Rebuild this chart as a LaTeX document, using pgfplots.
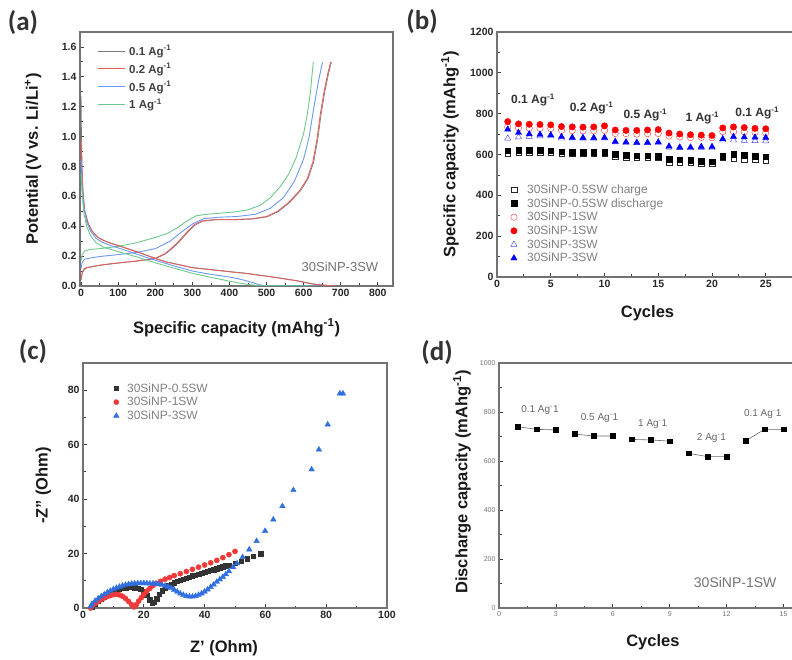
\documentclass[border=0pt]{standalone}
\usepackage{fontspec}
\setmainfont{Liberation Sans}
\newfontfamily\panelfont{Carlito}
\usepackage{pgfplots}
\usepackage{pgfplotstable}
\pgfplotsset{compat=1.18}

\definecolor{c01}{HTML}{5A5A5A}
\definecolor{c02}{HTML}{E06060}
\definecolor{c05}{HTML}{6A98F2}
\definecolor{c1}{HTML}{6CC98A}
\definecolor{eisk}{HTML}{333333}
\definecolor{eisr}{HTML}{F03A3A}
\definecolor{eisb}{HTML}{2F6FE0}

% rate capability, panel (b)
\pgfplotstableread{
cyc c05c c05d c1c c1d c3c c3d
1 603 619 735 761 679 723
2 610 620 730 750 685 707
3 612 620 728 748 688 700
4 612 620 728 747 690 698
5 612 619 727 745 690 695
6 605 614 718 737 680 687
7 604 612 717 735 680 683
8 603 610 716 734 679 682
9 603 610 716 735 679 682
10 603 610 718 740 680 683
11 590 600 703 720 660 663
12 588 597 702 718 658 660
13 587 595 700 718 657 658
14 587 595 702 720 657 658
15 586 593 703 722 658 660
16 563 578 690 705 635 640
17 560 575 686 700 633 635
18 560 573 683 697 632 635
19 557 568 684 695 634 638
20 555 565 682 693 632 638
21 588 592 712 730 670 676
22 582 600 712 735 670 687
23 578 596 710 732 668 685
24 575 593 708 728 667 684
25 572 590 706 726 666 683
}\ratetable

\pgfplotsset{
  panel/.style={
    scale only axis,
    axis line style={black!55, line width=1.1pt},
    tick align=inside,
    xtick pos=bottom, ytick pos=left,
    major tick length=4pt, minor tick length=2.5pt,
    tick style={black!75, line width=0.8pt},
    minor tick num=1,
    /pgf/number format/assume math mode=true,
    /pgf/number format/1000 sep={},
    tick label style={font=\bfseries\fontsize{10.5}{12}\selectfont, text=black!85},
    label style={font=\bfseries\fontsize{16.5}{19}\selectfont, text=black!90},
    legend cell align=left,
  },
  gap/.style={/tikz/every odd column/.append style={column sep=#1}},
}

\begin{document}
\begin{tikzpicture}
\path[use as bounding box] (0,0) rectangle (792pt,659pt);

\node[font=\panelfont\bfseries\fontsize{27}{30}\selectfont, text=black!80] at (23pt,636pt) {(a)};
\node[font=\panelfont\bfseries\fontsize{27}{30}\selectfont, text=black!80] at (422pt,637pt) {(b)};
\node[font=\panelfont\bfseries\fontsize{27}{30}\selectfont, text=black!80] at (33pt,307pt) {(c)};
\node[font=\panelfont\bfseries\fontsize{27}{30}\selectfont, text=black!80] at (437pt,306pt) {(d)};

% (a) charge / discharge profiles
\begin{axis}[panel,
  at={(80pt,373pt)}, anchor=south west,
  width=313pt, height=254pt,
  xmin=-3, xmax=841, ymin=0, ymax=1.7,
  xtick={0,100,...,800}, ytick={0,0.2,...,1.6},
  yticklabel style={/pgf/number format/.cd, fixed, fixed zerofill, precision=1},
  xlabel={Specific capacity (mAhg\textsuperscript{-1})},
  ylabel={Potential (V vs. Li/Li\textsuperscript{+})},
  xlabel style={at={(axis description cs:0.5,-0.165)}, anchor=center},
  ylabel style={at={(axis description cs:-0.15,0.5)}, anchor=center},
  legend style={at={(axis description cs:0.045,0.96)}, anchor=north west,
    draw=none, fill=none, font=\bfseries\fontsize{11.5}{13}\selectfont, text=black!75,
    nodes={inner sep=1pt}, row sep=4.5pt, gap=3pt},
  legend image code/.code={\draw[#1] (0pt,0pt) -- (27pt,0pt);},
]
\addplot[c01, line width=0.7pt, opacity=0.8] coordinates {
(0,0.04) (3,0.085) (8,0.11) (15,0.12) (30,0.128) (50,0.138) (100,0.153) (150,0.166)
(200,0.183) (227,0.213) (242,0.243) (262,0.288) (287,0.358) (307,0.408) (327,0.433)
(362,0.443) (413,0.443) (462,0.448) (502,0.463) (532,0.498) (562,0.558) (592,0.638)
(612,0.718) (627,0.828) (638,0.978) (647,1.148) (657,1.298) (667,1.418) (675,1.5)};
\addlegendentry{0.1 Ag\textsuperscript{-1}}
\addplot[c02, line width=0.9pt] coordinates {
(0,0.05) (3,0.09) (8,0.115) (15,0.125) (30,0.13) (50,0.14) (100,0.155) (150,0.168)
(200,0.185) (225,0.215) (240,0.245) (260,0.29) (285,0.36) (305,0.41) (325,0.435)
(360,0.445) (411,0.445) (460,0.45) (500,0.465) (530,0.5) (560,0.56) (590,0.64)
(610,0.72) (625,0.83) (636,0.98) (645,1.15) (655,1.3) (665,1.42) (673,1.5)};
\addlegendentry{0.2 Ag\textsuperscript{-1}}
\addplot[c05, line width=0.9pt] coordinates {
(0,0.12) (3,0.16) (10,0.18) (30,0.19) (60,0.2) (100,0.21) (150,0.225) (200,0.25)
(240,0.3) (270,0.36) (300,0.415) (330,0.45) (370,0.46) (420,0.465) (470,0.48)
(510,0.52) (545,0.59) (575,0.7) (600,0.85) (615,1.0) (628,1.2) (640,1.37) (651,1.5)};
\addlegendentry{0.5 Ag\textsuperscript{-1}}
\addplot[c1, line width=0.9pt] coordinates {
(0,0.17) (3,0.21) (10,0.235) (25,0.245) (50,0.25) (100,0.265) (150,0.29) (200,0.325)
(231,0.35) (260,0.39) (285,0.435) (310,0.47) (340,0.48) (411,0.495) (450,0.51)
(483,0.54) (510,0.59) (537,0.665) (560,0.75) (580,0.86) (600,1.02) (610,1.15)
(618,1.29) (626,1.5)};
\addlegendentry{1 Ag\textsuperscript{-1}}
% discharge branches
\addplot[c01, line width=0.7pt, opacity=0.8, forget plot] coordinates {
(0,1.27) (1,1.0) (3,0.76) (6,0.6) (10,0.50) (20,0.412) (30,0.367) (45,0.327)
(60,0.307) (80,0.287) (100,0.272) (130,0.247) (160,0.222) (195,0.19) (230,0.162)
(267,0.142) (300,0.124) (356,0.109) (400,0.097) (447,0.085) (500,0.067) (536,0.054)
(580,0.037) (626,0.014) (660,0.005) (692,0.0)};
\addplot[c02, line width=0.9pt, forget plot] coordinates {
(0,0.98) (2,0.80) (5,0.62) (10,0.50) (20,0.41) (30,0.365) (45,0.325) (60,0.305)
(80,0.285) (100,0.27) (130,0.245) (160,0.22) (195,0.188) (230,0.16) (267,0.14)
(300,0.122) (356,0.107) (400,0.095) (447,0.083) (500,0.065) (536,0.052) (580,0.035)
(626,0.012) (660,0.004) (690,0.0)};
\addplot[c05, line width=0.9pt, forget plot] coordinates {
(0,0.84) (3,0.65) (8,0.52) (15,0.43) (25,0.37) (40,0.32) (55,0.295) (80,0.27)
(100,0.255) (130,0.23) (150,0.213) (200,0.172) (250,0.135) (300,0.1) (350,0.078)
(400,0.06) (430,0.045) (460,0.025) (480,0.008) (500,0.002) (560,0.001) (655,0.0)};
\addplot[c1, line width=0.9pt, forget plot] coordinates {
(0,0.75) (3,0.6) (8,0.48) (15,0.40) (25,0.34) (40,0.29) (60,0.26) (100,0.23)
(150,0.195) (200,0.155) (250,0.12) (300,0.085) (350,0.058) (400,0.032) (450,0.01)
(480,0.002) (560,0.001) (640,0.0)};
\node[text=black!55, font=\fontsize{13}{15}\selectfont] at (axis cs:698,0.13) {30SiNP-3SW};
\end{axis}

% (b) rate performance
\begin{axis}[panel,
  at={(497pt,382pt)}, anchor=south west,
  width=301pt, height=245pt,
  xmin=0, xmax=28, ymin=0, ymax=1200,
  xtick={0,5,...,25}, ytick={0,200,...,1200},
  xlabel={Cycles},
  ylabel={Specific capacity (mAhg\textsuperscript{-1})},
  xlabel style={at={(axis description cs:0.5,-0.147)}, anchor=center},
  ylabel style={at={(axis description cs:-0.156,0.5)}, anchor=center},
  legend style={at={(axis description cs:0.035,0.39)}, anchor=north west,
    draw=none, fill=none, font=\fontsize{12}{13}\selectfont, text=black!50,
    nodes={inner sep=1pt}, row sep=1.5pt, gap=9pt},
]
\addplot[only marks, mark=square, mark size=2.8pt, black!85] table[x=cyc, y=c05c] {\ratetable};
\addlegendentry{30SiNP-0.5SW charge}
\addplot[only marks, mark=square*, mark size=2.8pt, black] table[x=cyc, y=c05d] {\ratetable};
\addlegendentry{30SiNP-0.5SW discharge}
\addplot[only marks, mark=o, mark size=3.2pt, red!80] table[x=cyc, y=c1c] {\ratetable};
\addlegendentry{30SiNP-1SW}
\addplot[only marks, mark=*, mark size=3.2pt, red] table[x=cyc, y=c1d] {\ratetable};
\addlegendentry{30SiNP-1SW}
\addplot[only marks, mark=triangle, mark size=3.6pt, blue!75] table[x=cyc, y=c3c] {\ratetable};
\addlegendentry{30SiNP-3SW}
\addplot[only marks, mark=triangle*, mark size=3.6pt, blue] table[x=cyc, y=c3d] {\ratetable};
\addlegendentry{30SiNP-3SW}
\begin{scope}[font=\bfseries\fontsize{12}{13}\selectfont, text=black!80]
\node at (axis cs:3.35,867) {0.1 Ag\textsuperscript{-1}};
\node at (axis cs:8.8,828) {0.2 Ag\textsuperscript{-1}};
\node at (axis cs:13.8,793) {0.5 Ag\textsuperscript{-1}};
\node at (axis cs:19.1,778) {1 Ag\textsuperscript{-1}};
\node at (axis cs:24.2,803) {0.1 Ag\textsuperscript{-1}};
\end{scope}
\end{axis}

% (c) Nyquist plots
\begin{axis}[panel,
  at={(83pt,51pt)}, anchor=south west,
  width=304pt, height=245pt,
  xmin=0, xmax=100, ymin=0, ymax=90,
  clip=false,
  xtick={0,20,...,100}, ytick={0,20,...,80},
  xlabel={Z' (Ohm)},
  ylabel={-Z'' (Ohm)},
  xlabel style={at={(axis description cs:0.464,-0.163)}, anchor=center},
  ylabel style={at={(axis description cs:-0.13,0.5)}, anchor=center},
  legend style={at={(axis description cs:0.09,0.93)}, anchor=north west,
    draw=none, fill=none, font=\fontsize{12}{13}\selectfont, text=black!50,
    nodes={inner sep=1pt}, row sep=1.5pt, gap=7pt},
]
\addplot[only marks, mark=square*, mark size=2.2pt, eisk] coordinates {
(3,0.5) (4,1.5) (5,2.5) (6,3.4) (7,4.2) (8,5.0) (9,5.6) (10,6.1) (11,6.6) (12,7.0)
(13,7.3) (14,7.5) (15,7.6) (16,7.6) (17,7.5) (18,7.3) (19,6.8) (20,6.0) (21,4.6)
(22,3.0) (22.8,1.8) (23.5,2.2) (24.2,3.4) (25,5.0) (26,6.4) (27,7.4) (28,8.2) (29,8.8)
(30,9.3) (31,9.8) (32,10.2) (33,10.6) (34,11.0) (35,11.4) (36,11.8) (37,12.1) (38,12.5)
(39,12.8) (40,13.2) (41,13.5) (42,13.8) (43,14.1) (44,14.5) (45,14.8) (46,15.2)
(47,15.5) (48,15.8) (50,16.5) (52,17.3) (54,18.1) (56,19.0) (58.5,20.0)};
\addlegendentry{30SiNP-0.5SW}
\addplot[only marks, mark=*, mark size=2.6pt, eisr] coordinates {
(2.5,0) (3,0.8) (4,1.6) (5,2.4) (6,3.1) (7,3.7) (8,4.2) (9,4.6) (10,4.9) (11,5.0)
(12,4.8) (13,4.3) (14,3.5) (15,2.4) (16,1.2) (16.8,0.4) (17.5,1.2) (18.3,2.5)
(19.2,3.8) (20,5) (21,6.2) (22,7.2) (23,8.2) (24,9) (25.5,9.8) (27,10.6) (28.5,11.2)
(30,11.9) (32,12.6) (34,13.4) (36,14.2) (38,15.0) (40,15.8) (42,16.6) (44,17.5)
(46,18.5) (48,19.6) (50,20.8)};
\addlegendentry{30SiNP-1SW}
\addplot[only marks, mark=triangle*, mark size=3.2pt, eisb] coordinates {
(2.5,0.5) (3,1.5) (4,2.6) (5,3.5) (6,4.3) (7,5) (8,5.7) (9,6.3) (10,6.9) (11,7.4)
(12,7.8) (13,8.2) (14,8.5) (15,8.7) (16,8.9) (17,9.0) (18,9.1) (19,9.1) (20,9.1)
(21,9.1) (22,9.0) (23,9.0) (24,8.9) (25,8.7) (26,8.5) (27,8.2) (28,7.8) (29,7.3)
(30,6.7) (31,6.0) (32,5.3) (33,4.8) (34,4.4) (35,4.2) (36,4.2) (37,4.4) (38,4.8)
(39,5.3) (40,6.0) (41,6.8) (42,7.7) (43,8.6) (44,9.6) (45,10.5) (46,11.4) (47,12.4)
(48,13.5) (49.4,15) (50.7,16.4) (52.5,18.7) (54.7,21.5) (57.1,24.6) (59.9,28.3)
(62.6,32.5) (65.6,37.4) (69.2,43.3) (75.2,50.9) (77.6,58.2) (80.5,67.4) (84.5,78.8)
(85.5,78.8)};
\addlegendentry{30SiNP-3SW}
\end{axis}

% (d) discharge capacity at various rates
\begin{axis}[panel,
  at={(499pt,51pt)}, anchor=south west,
  width=303.5pt, height=245pt,
  xmin=0, xmax=16, ymin=0, ymax=1000,
  xtick={0,3,...,15}, ytick={0,200,...,1000},
  tick label style={font=\fontsize{7}{8}\selectfont, text=black!55},
  xlabel={Cycles},
  ylabel={Discharge capacity (mAhg\textsuperscript{-1})},
  xlabel style={at={(axis description cs:0.507,-0.139)}, anchor=center},
  ylabel style={at={(axis description cs:-0.122,0.514)}, anchor=center},
  unbounded coords=jump,
]
\addplot[black!60, line width=0.6pt, mark=square*, mark size=2.3pt,
  mark options={black}] coordinates {
(1,740) (2,729) (3,727) (3.5,nan)
(4,710) (5,702) (6,702) (6.5,nan)
(7,688) (8,686) (9,681) (9.5,nan)
(10,631) (11,618) (12,618) (12.5,nan)
(13,683) (14,729) (15,729)};
\begin{scope}[font=\fontsize{10}{12}\selectfont, text=black!60]
\node at (axis cs:2.16,808) {0.1 Ag\textsuperscript{-}1};
\node at (axis cs:5.3,775) {0.5 Ag\textsuperscript{-}1};
\node at (axis cs:8.1,751) {1 Ag\textsuperscript{-}1};
\node at (axis cs:11.2,694) {2 Ag\textsuperscript{-}1};
\node at (axis cs:13.9,792) {0.1 Ag\textsuperscript{-}1};
\end{scope}
\node[text=black!55, font=\fontsize{14}{16}\selectfont] at (axis cs:12.45,106) {30SiNP-1SW};
\end{axis}
\end{tikzpicture}
\end{document}
